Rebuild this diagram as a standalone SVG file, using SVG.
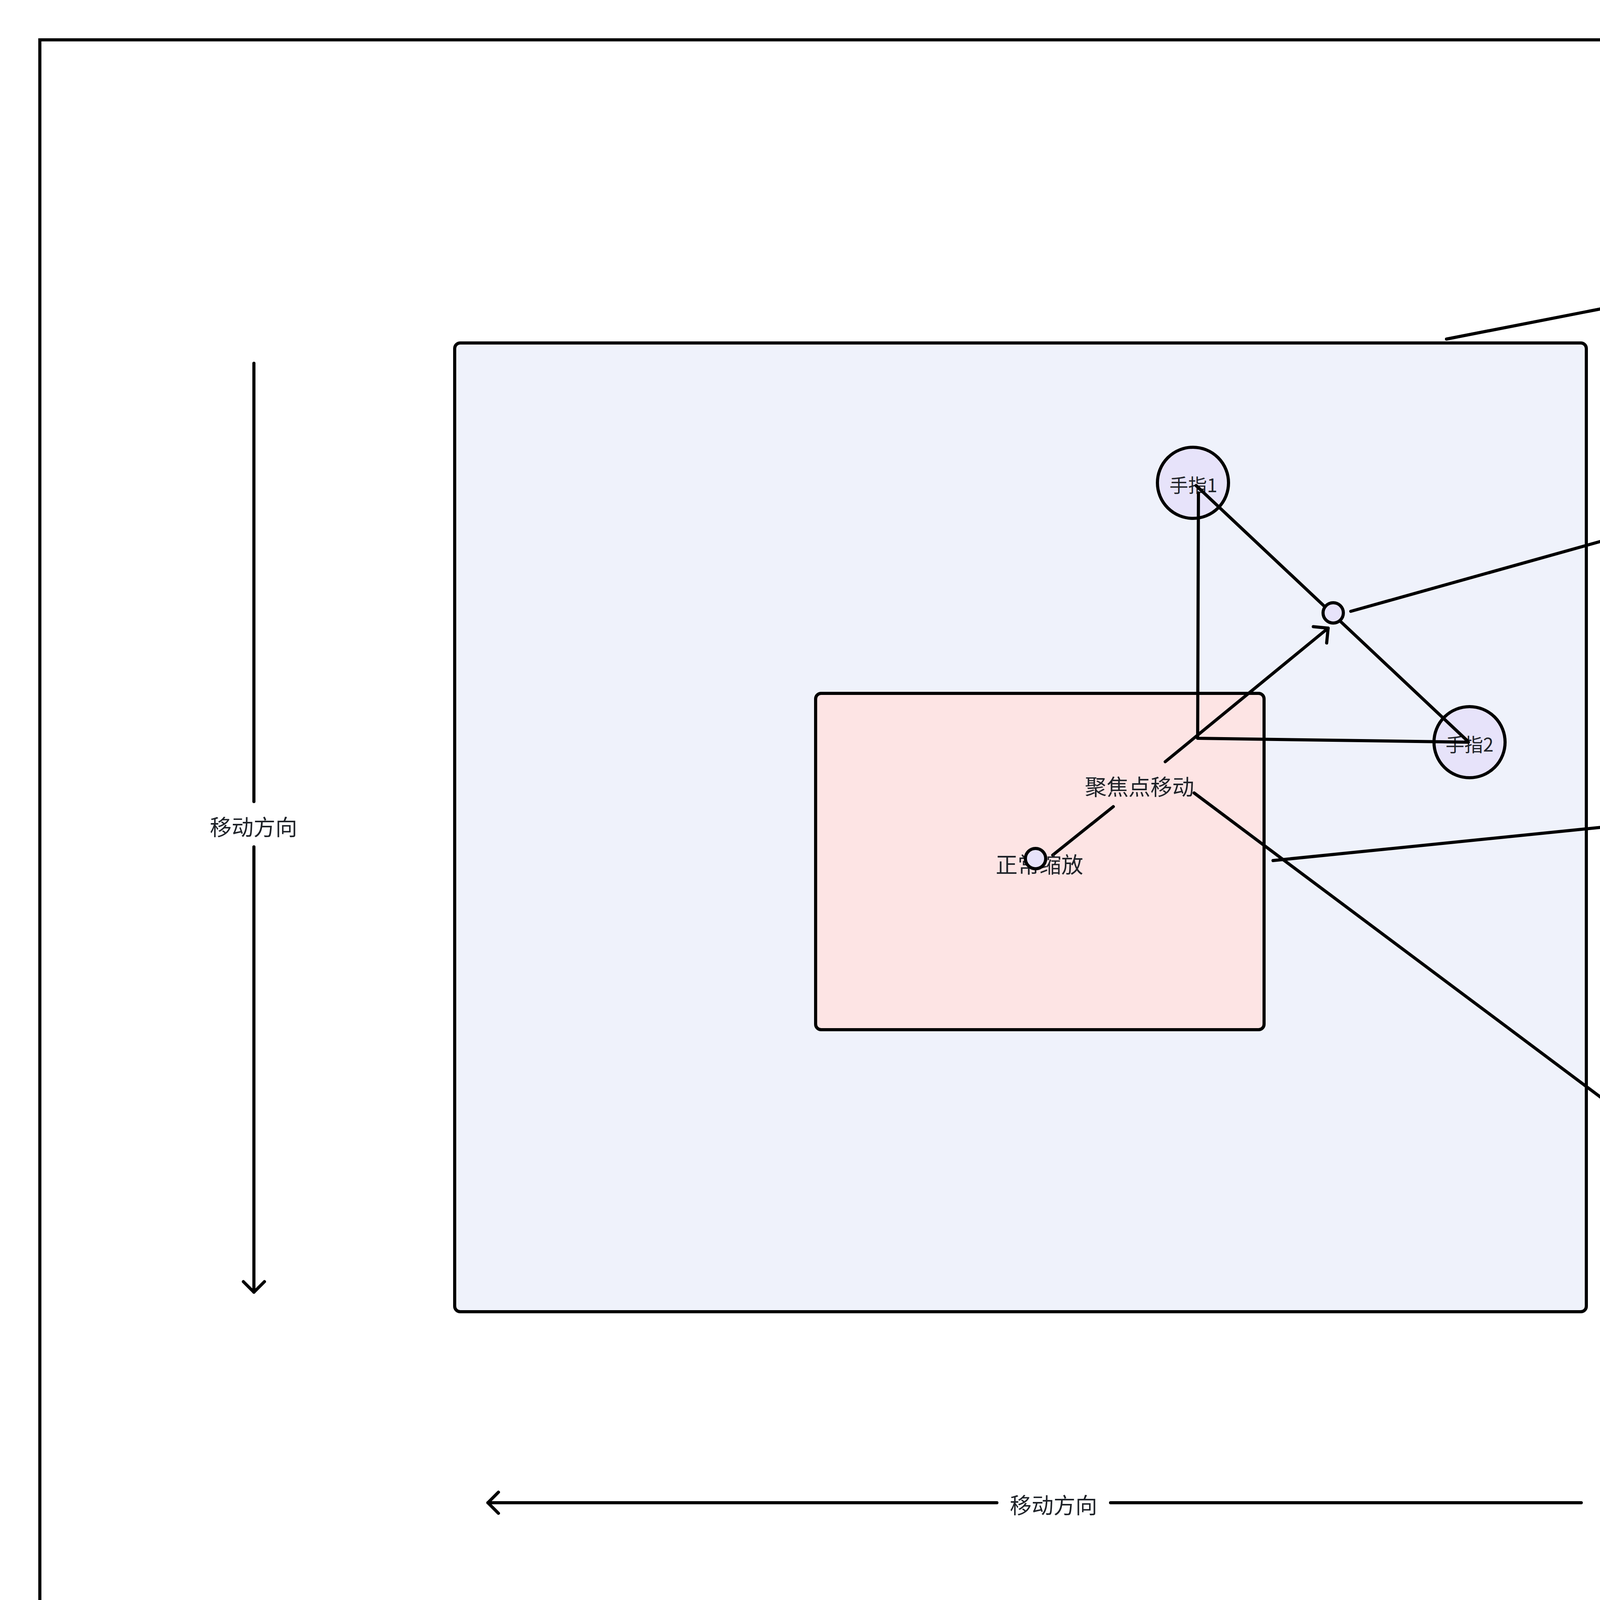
<svg xmlns="http://www.w3.org/2000/svg" width="6808" height="4400" viewBox="0 0 6808 4400">
<style>
  .frame{fill:none;stroke:#000;stroke-width:8}
  .box{stroke:#000;stroke-width:8}
  .node{fill:#e7e3fa;stroke:#000;stroke-width:8}
  .ln{fill:none;stroke:#000;stroke-width:8;stroke-linecap:round;stroke-linejoin:round}
  .lbl{font-family:"Noto Sans CJK SC","Noto Sans",sans-serif;fill:#1f2329;text-anchor:middle;dominant-baseline:central}
  .s56{font-size:56px}
  .s48{font-size:48px}
  .big{font-family:"Noto Sans CJK SC","Noto Sans",sans-serif;fill:#1f2329;font-size:190px;dominant-baseline:central}
</style>
<defs>
  <marker id="arr" markerUnits="userSpaceOnUse" viewBox="-36 -36 44 72" markerWidth="44" markerHeight="72" refX="0" refY="0" orient="auto" overflow="visible">
    <path d="M-27,-27 L0,0 L-27,27" fill="none" stroke="#000" stroke-width="8" stroke-linecap="round" stroke-linejoin="round"/>
  </marker>
  <filter id="emb" x="-10%" y="-30%" width="120%" height="160%">
    <feDropShadow dx="1.5" dy="1.5" stdDeviation="0.6" flood-color="#555" flood-opacity="0.9"/>
  </filter>
</defs>
<rect width="6808" height="4400" fill="#fff"/>

<g id="frame">
  <rect class="frame" x="102" y="102" width="5118" height="4195"/>
</g>
<g id="state2-box">
  <rect class="box" x="1164" y="878" width="2897" height="2480" rx="14" fill="#eff2fb"/>
</g>
<g id="state1-box">
  <rect class="box" x="2088" y="1775" width="1148" height="861" rx="14" fill="#fde4e4"/>
</g>
<g id="finger1">
  <circle class="node" cx="3054" cy="1236" r="91"/>
  <text class="lbl s48" x="3055" y="1239">手指1</text>
</g>
<g id="finger2">
  <circle class="node" cx="3762" cy="1900" r="91"/>
  <text class="lbl s48" x="3762" y="1903">手指2</text>
</g>
<g id="labels">
  <text class="lbl s56" x="2917" y="2010">聚焦点移动</text>
  <text class="lbl s56" x="4657" y="1287">缩放的聚焦点</text>
  <text class="lbl s56" x="4730" y="3072">可以变为水平方向的偏移</text>
  <text class="lbl s56" x="649" y="2113">移动方向</text>
  <text class="lbl s56" x="2697" y="3849">移动方向</text>
  <text class="big" x="5798" y="478">图片状态2</text>
  <text class="big" x="5798" y="1958">图片状态1</text>
  <text x="6428" y="4300" font-family="'Noto Sans CJK SC','Noto Sans',sans-serif" font-size="24" fill="#eeeeee" filter="url(#emb)">掘金技术社区 @ 小白马丶</text>
</g>
<g id="connectors">
  <line class="ln" x1="3703" y1="868" x2="5775" y2="463" marker-end="url(#arr)"/>
  <line class="ln" x1="3259" y1="2203" x2="5775" y2="1948" marker-end="url(#arr)"/>
  <line class="ln" x1="3458" y1="1565" x2="4466" y2="1283" marker-end="url(#arr)"/>
  <line class="ln" x1="2695" y1="2189" x2="2850" y2="2065"/>
  <line class="ln" x1="2983" y1="1950" x2="3400" y2="1608" marker-end="url(#arr)"/>
  <line class="ln" x1="3057" y1="2030" x2="4389" y2="3027" marker-end="url(#arr)"/>
  <line class="ln" x1="650" y1="930" x2="650" y2="2052"/>
  <line class="ln" x1="650" y1="2168" x2="650" y2="3308" marker-end="url(#arr)"/>
  <line class="ln" x1="4048" y1="3847" x2="2843" y2="3847"/>
  <line class="ln" x1="2552" y1="3847" x2="1249" y2="3847" marker-end="url(#arr)"/>
  <line class="ln" x1="3062" y1="1243" x2="3756" y2="1896"/>
  <polyline class="ln" points="3068,1262 3066,1890 3759,1900"/>
</g>
<g id="focus-point">
  <circle class="node" cx="3413" cy="1569" r="26"/>
</g>
<g id="normal-zoom">
  <text class="lbl s56" x="2661" y="2209">正常缩放</text>
  <circle class="node" cx="2651" cy="2198" r="26"/>
</g>
</svg>
